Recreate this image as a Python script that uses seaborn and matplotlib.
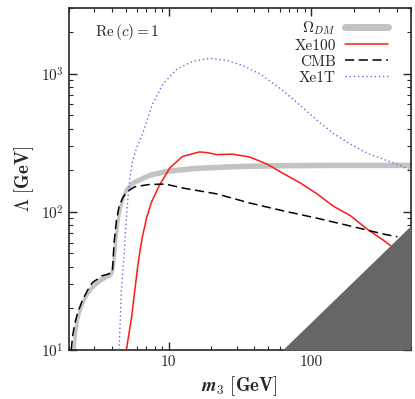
import numpy as np
import matplotlib
matplotlib.use("Agg")
import matplotlib.pyplot as plt
from matplotlib.lines import Line2D
import seaborn as sns

# relic density curve (Omega_DM)
m_omega = [2.18, 2.22, 2.3, 2.4, 2.55, 2.75, 2.95, 3.3, 3.6, 3.9, 4.03, 4.1, 4.2, 4.31, 4.45,
           4.6, 4.8, 5.06, 5.6, 6.56, 7.35, 9.7, 15, 25, 37, 70, 150, 300, 500]
lam_omega = [10, 13, 16.5, 19.5, 23, 26.5, 29, 32, 34, 35.5, 36.5, 40, 52, 69, 90,
             108, 126, 145, 163, 176, 186, 198, 208, 213, 216, 218, 219, 219, 219]

# Xe100 limit
m_xe100 = [5.06, 5.3, 5.5, 5.8, 6.05, 6.3, 6.56, 7.0, 7.6, 8.6, 10.2, 12.5, 16.5, 19,
           21.8, 28, 37, 49, 63, 84, 110, 143, 188, 247, 323, 360]
lam_xe100 = [10, 13.5, 17.2, 27, 39, 52, 66, 90, 118, 155, 208, 252, 272, 268,
             260, 262, 250, 222, 191, 162, 135, 110, 94, 75, 62, 57]

# CMB limit
m_cmb = [2.08, 2.12, 2.2, 2.3, 2.48, 2.7, 2.92, 3.43, 3.8, 4.03, 4.08, 4.15, 4.3, 4.5,
         4.8, 5.1, 5.8, 7.35, 9.5, 12.5, 21.8, 37, 63, 110, 188, 323, 403]
lam_cmb = [10, 12.5, 15.5, 18.5, 22.7, 27, 30.7, 34.5, 35.5, 36.5, 44, 60, 85, 110,
           128, 140, 152, 158, 159, 149, 135, 116, 102, 90, 79, 69, 66]

# Xe1T limit
m_xe1t = [4.5, 4.6, 4.67, 4.8, 4.9, 5.0, 5.15, 5.35, 5.6, 6.0, 6.56, 7.7, 9.1, 11.4, 14.7,
          19.4, 25.6, 33, 43.7, 63, 84, 110, 143, 188, 247, 323, 420, 500]
lam_xe1t = [10, 18, 27, 40, 52, 75, 115, 175, 235, 295, 365, 602, 840, 1080, 1230,
            1295, 1250, 1150, 1000, 760, 590, 460, 370, 310, 266, 240, 218, 200]

# excluded region boundary (Lambda < m / 2pi)
m_excl = [63.5, 500]
lam_excl = [10.1, 79.6]

sns.set_style("ticks")
plt.rcParams["font.family"] = "serif"
plt.rcParams["font.serif"] = ["cmr10", "DejaVu Serif"]
plt.rcParams["mathtext.fontset"] = "cm"
plt.rcParams["axes.formatter.use_mathtext"] = True
plt.rcParams["axes.unicode_minus"] = False

fig = plt.figure(figsize=(4.15, 3.99), dpi=100)
ax = fig.add_axes([0.166, 0.123, 0.824, 0.857])

gray = "#c3c3c3"
lo = np.array(lam_omega) * 10 ** -0.02
hi = np.array(lam_omega) * 10 ** 0.02
ax.fill_between(m_omega, lo, hi, color=gray, lw=0, zorder=2)
sns.lineplot(x=m_omega, y=lam_omega, ax=ax, color=gray, lw=2.4, sort=False, zorder=2)
sns.lineplot(x=m_xe100, y=lam_xe100, ax=ax, color="#ff1a1a", lw=1.1,
             sort=False, zorder=3)
sns.lineplot(x=m_cmb, y=lam_cmb, ax=ax, color="black", lw=1.1,
             sort=False, zorder=3)
ax.lines[-1].set_dashes((6, 3))
sns.lineplot(x=m_xe1t, y=lam_xe1t, ax=ax, color="#6a6ae0", lw=1.0,
             sort=False, zorder=3)
ax.lines[-1].set_linestyle((0, (1, 2)))

ax.fill_between(m_excl, [10, 10], lam_excl, color="#666666", lw=0, zorder=4)

ax.set_xscale("log")
ax.set_yscale("log")
ax.set_xlim(2, 500)
ax.set_ylim(10, 3000)
ax.set_xticks([10, 100])
ax.set_xticklabels(["10", "100"])

ax.tick_params(which="both", direction="in", top=True, right=True, labelsize=11)
ax.tick_params(which="major", length=6, width=1)
ax.tick_params(which="minor", length=3, width=0.8)
for s in ax.spines.values():
    s.set_linewidth(1.2)

ax.set_xlabel(r"$\mathbfit{m}_{\mathbf{3}}\ \mathbf{[GeV]}$", fontsize=13.5)
ax.set_ylabel(r"$\mathbf{\Lambda}\ \mathbf{[GeV]}$", fontsize=13.5)

ax.text(0.076, 0.93, r"$\mathrm{Re}\,(c) = 1$", transform=ax.transAxes,
        fontsize=11, va="center")

handles = [
    Line2D([], [], color=gray, lw=5),
    Line2D([], [], color="#ff1a1a", lw=1.1),
    Line2D([], [], color="black", lw=1.1, dashes=(6, 3)),
    Line2D([], [], color="#6a6ae0", lw=1.0, ls=(0, (1, 2))),
]
labels = [r"$\Omega_{DM}$", "Xe100", "CMB", "Xe1T"]
leg = ax.legend(handles, labels, loc="upper right", bbox_to_anchor=(0.933, 0.968),
                frameon=False, markerfirst=False, fontsize=11, handlelength=2.8,
                labelspacing=0.15, borderaxespad=0, borderpad=0, handletextpad=0.6)
for t in leg.get_texts():
    t.set_ha("right")

fig.savefig("out.png", dpi=100)
